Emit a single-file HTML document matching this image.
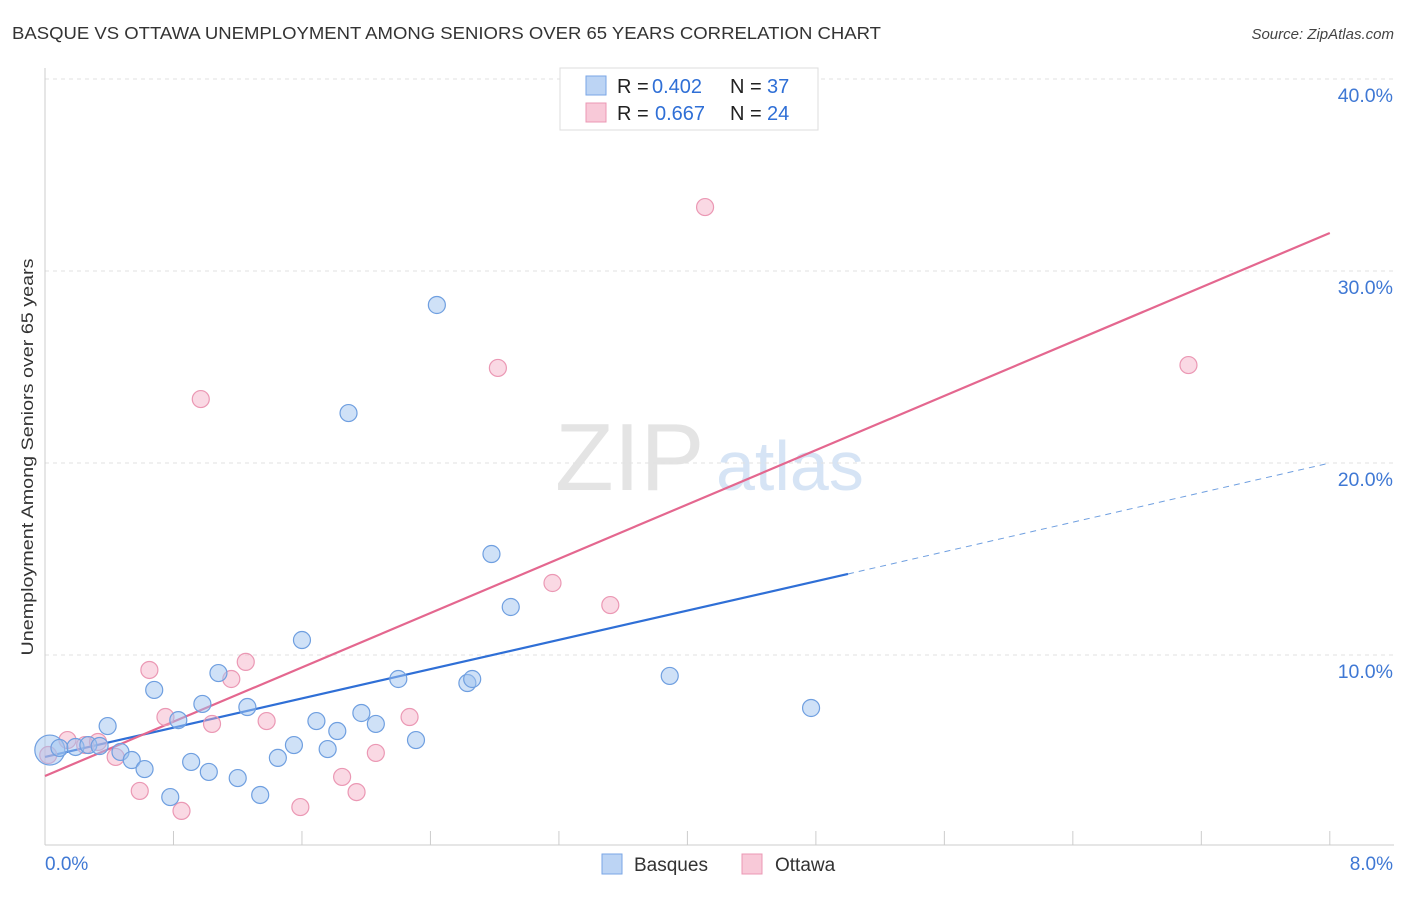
<!DOCTYPE html>
<html><head><meta charset="utf-8"><style>
body{margin:0;background:#fff;font-family:"Liberation Sans",sans-serif;}
svg text{font-family:"Liberation Sans",sans-serif;}
</style></head><body>
<svg id="chart" width="1406" height="892" xmlns="http://www.w3.org/2000/svg">
<text x="12" y="39" font-size="17.5" fill="#333" textLength="869" lengthAdjust="spacingAndGlyphs">BASQUE VS OTTAWA UNEMPLOYMENT AMONG SENIORS OVER 65 YEARS CORRELATION CHART</text>
<text x="1394" y="39" font-size="15" fill="#444" text-anchor="end" font-style="italic">Source: ZipAtlas.com</text>
<text x="555" y="490" font-size="96" fill="#e4e4e4" font-family="Liberation Serif">ZIP</text>
<text x="716" y="490" font-size="70" fill="#d6e4f5">atlas</text>
<text transform="translate(33,457) rotate(-90)" font-size="17" fill="#333" text-anchor="middle" textLength="397" lengthAdjust="spacingAndGlyphs">Unemployment Among Seniors over 65 years</text>
<g id="grid"></g><g id="axes"></g><g id="lines"></g><g id="pts"></g>
<g>
<rect x="560" y="68" width="258" height="62" fill="#fff" stroke="#ddd"/>
<rect x="586" y="76" width="20" height="19" fill="#bcd4f4" stroke="#7aa6e6"/>
<text x="617" y="93" font-size="20" fill="#222">R =</text><text x="652" y="93" font-size="20" fill="#2f6fd6">0.402</text>
<text x="730" y="93" font-size="20" fill="#222">N =</text><text x="767" y="93" font-size="20" fill="#2f6fd6">37</text>
<rect x="586" y="103" width="20" height="19" fill="#f8c9d8" stroke="#eb98b4"/>
<text x="617" y="120" font-size="20" fill="#222">R =</text><text x="655" y="120" font-size="20" fill="#2f6fd6">0.667</text>
<text x="730" y="120" font-size="20" fill="#222">N =</text><text x="767" y="120" font-size="20" fill="#2f6fd6">24</text>
</g>
<g><rect x="602" y="854" width="20" height="20" fill="#bcd4f4" stroke="#7aa6e6"/><text x="634" y="871" font-size="19" fill="#333">Basques</text></g>
<g><rect x="742" y="854" width="20" height="20" fill="#f8c9d8" stroke="#eb98b4"/><text x="775" y="871" font-size="19" fill="#333">Ottawa</text></g>
</svg>
<script>
const blueX=[.03,.09,.19,.27,.34,.39,.47,.54,.62,.68,.78,.83,.91,.98,1.02,1.08,1.20,1.26,1.34,1.45,1.55,1.60,1.69,1.76,1.82,1.89,1.97,2.06,2.20,2.31,2.44,2.63,2.66,2.78,2.90,3.89,4.77];
const blueY=[5.05,5.16,5.21,5.31,5.26,6.30,4.95,4.53,4.06,8.18,2.60,6.61,4.43,7.45,3.91,9.06,3.59,7.29,2.71,4.64,5.31,10.78,6.56,5.10,6.04,22.60,6.98,6.41,8.75,5.57,28.23,8.54,8.75,15.26,12.50,8.91,7.24];
const pinkX=[.02,.14,.25,.33,.44,.59,.65,.75,.85,.97,1.04,1.16,1.25,1.38,1.59,1.85,1.94,2.06,2.27,2.82,3.16,3.52,4.11,7.12];
const pinkY=[4.79,5.57,5.31,5.47,4.69,2.92,9.22,6.77,1.88,23.33,6.41,8.75,9.64,6.56,2.08,3.65,2.86,4.90,6.77,24.95,13.75,12.60,33.33,25.10];
const yTicks=[10,20,30,40];
const blueTrend=[4.69,14.22,20.0]; // at x=0, 5.0, 8.0
const pinkTrend=[3.70,31.98]; // at x=0, 8.0
const X=v=>45+v*160.6, Y=v=>847-v*19.2;
const NS="http://www.w3.org/2000/svg";
function mk(p,t,a){const e=document.createElementNS(NS,t);for(const k in a)e.setAttribute(k,a[k]);p.appendChild(e);return e;}
const grid=document.getElementById('grid'),axes=document.getElementById('axes'),lines=document.getElementById('lines'),pts=document.getElementById('pts');
yTicks.forEach(t=>{
 const l=mk(grid,'line',{x1:45,x2:1394,y1:Y(t),y2:Y(t),stroke:'#e2e2e2','stroke-dasharray':'4,4'});
 
 
 const tx=mk(axes,'text',{x:1393,y:Y(t)+23,'font-size':19.5,fill:'#3f78d4','text-anchor':'end'});
 tx.textContent=t.toFixed(1)+'%';
 
 
});
mk(axes,'line',{x1:45,x2:45,y1:68,y2:845,stroke:'#ccc'});
mk(axes,'line',{x1:45,x2:1394,y1:845,y2:845,stroke:'#ccc'});
for(let i=0;i<=10;i++){const t=mk(axes,'line',{x1:X(i*0.8),x2:X(i*0.8),y1:831,y2:845,stroke:'#ccc'});}
const xl0=mk(axes,'text',{x:45,y:870,'font-size':19,fill:'#3f78d4'});xl0.textContent='0.0%';


const xl1=mk(axes,'text',{x:1393,y:870,'font-size':19,fill:'#3f78d4','text-anchor':'end'});xl1.textContent='8.0%';


pinkX.forEach((x,i)=>{const c=mk(pts,'circle',{cx:X(x),cy:Y(pinkY[i]),r:8.5,fill:'rgba(245,170,195,0.45)',stroke:'#eb98b4','stroke-width':1.2});
 
 });
blueX.forEach((x,i)=>{const c=mk(pts,'circle',{cx:X(x),cy:Y(blueY[i]),r:i===0?15:8.5,fill:'rgba(160,195,240,0.5)',stroke:'#6f9fe0','stroke-width':1.2});
 
 });
const bl=mk(lines,'line',{x1:X(0),y1:Y(blueTrend[0]),x2:X(5),y2:Y(blueTrend[1]),stroke:'#2f6fd6','stroke-width':2.2});


const bd=mk(lines,'line',{x1:X(5),y1:Y(blueTrend[1]),x2:X(8),y2:Y(blueTrend[2]),stroke:'#6f9fe0','stroke-width':1,'stroke-dasharray':'6,5'});


const pl=mk(lines,'line',{x1:X(0),y1:Y(pinkTrend[0]),x2:X(8),y2:Y(pinkTrend[1]),stroke:'#e4678f','stroke-width':2.2});


</script>
</body></html>
